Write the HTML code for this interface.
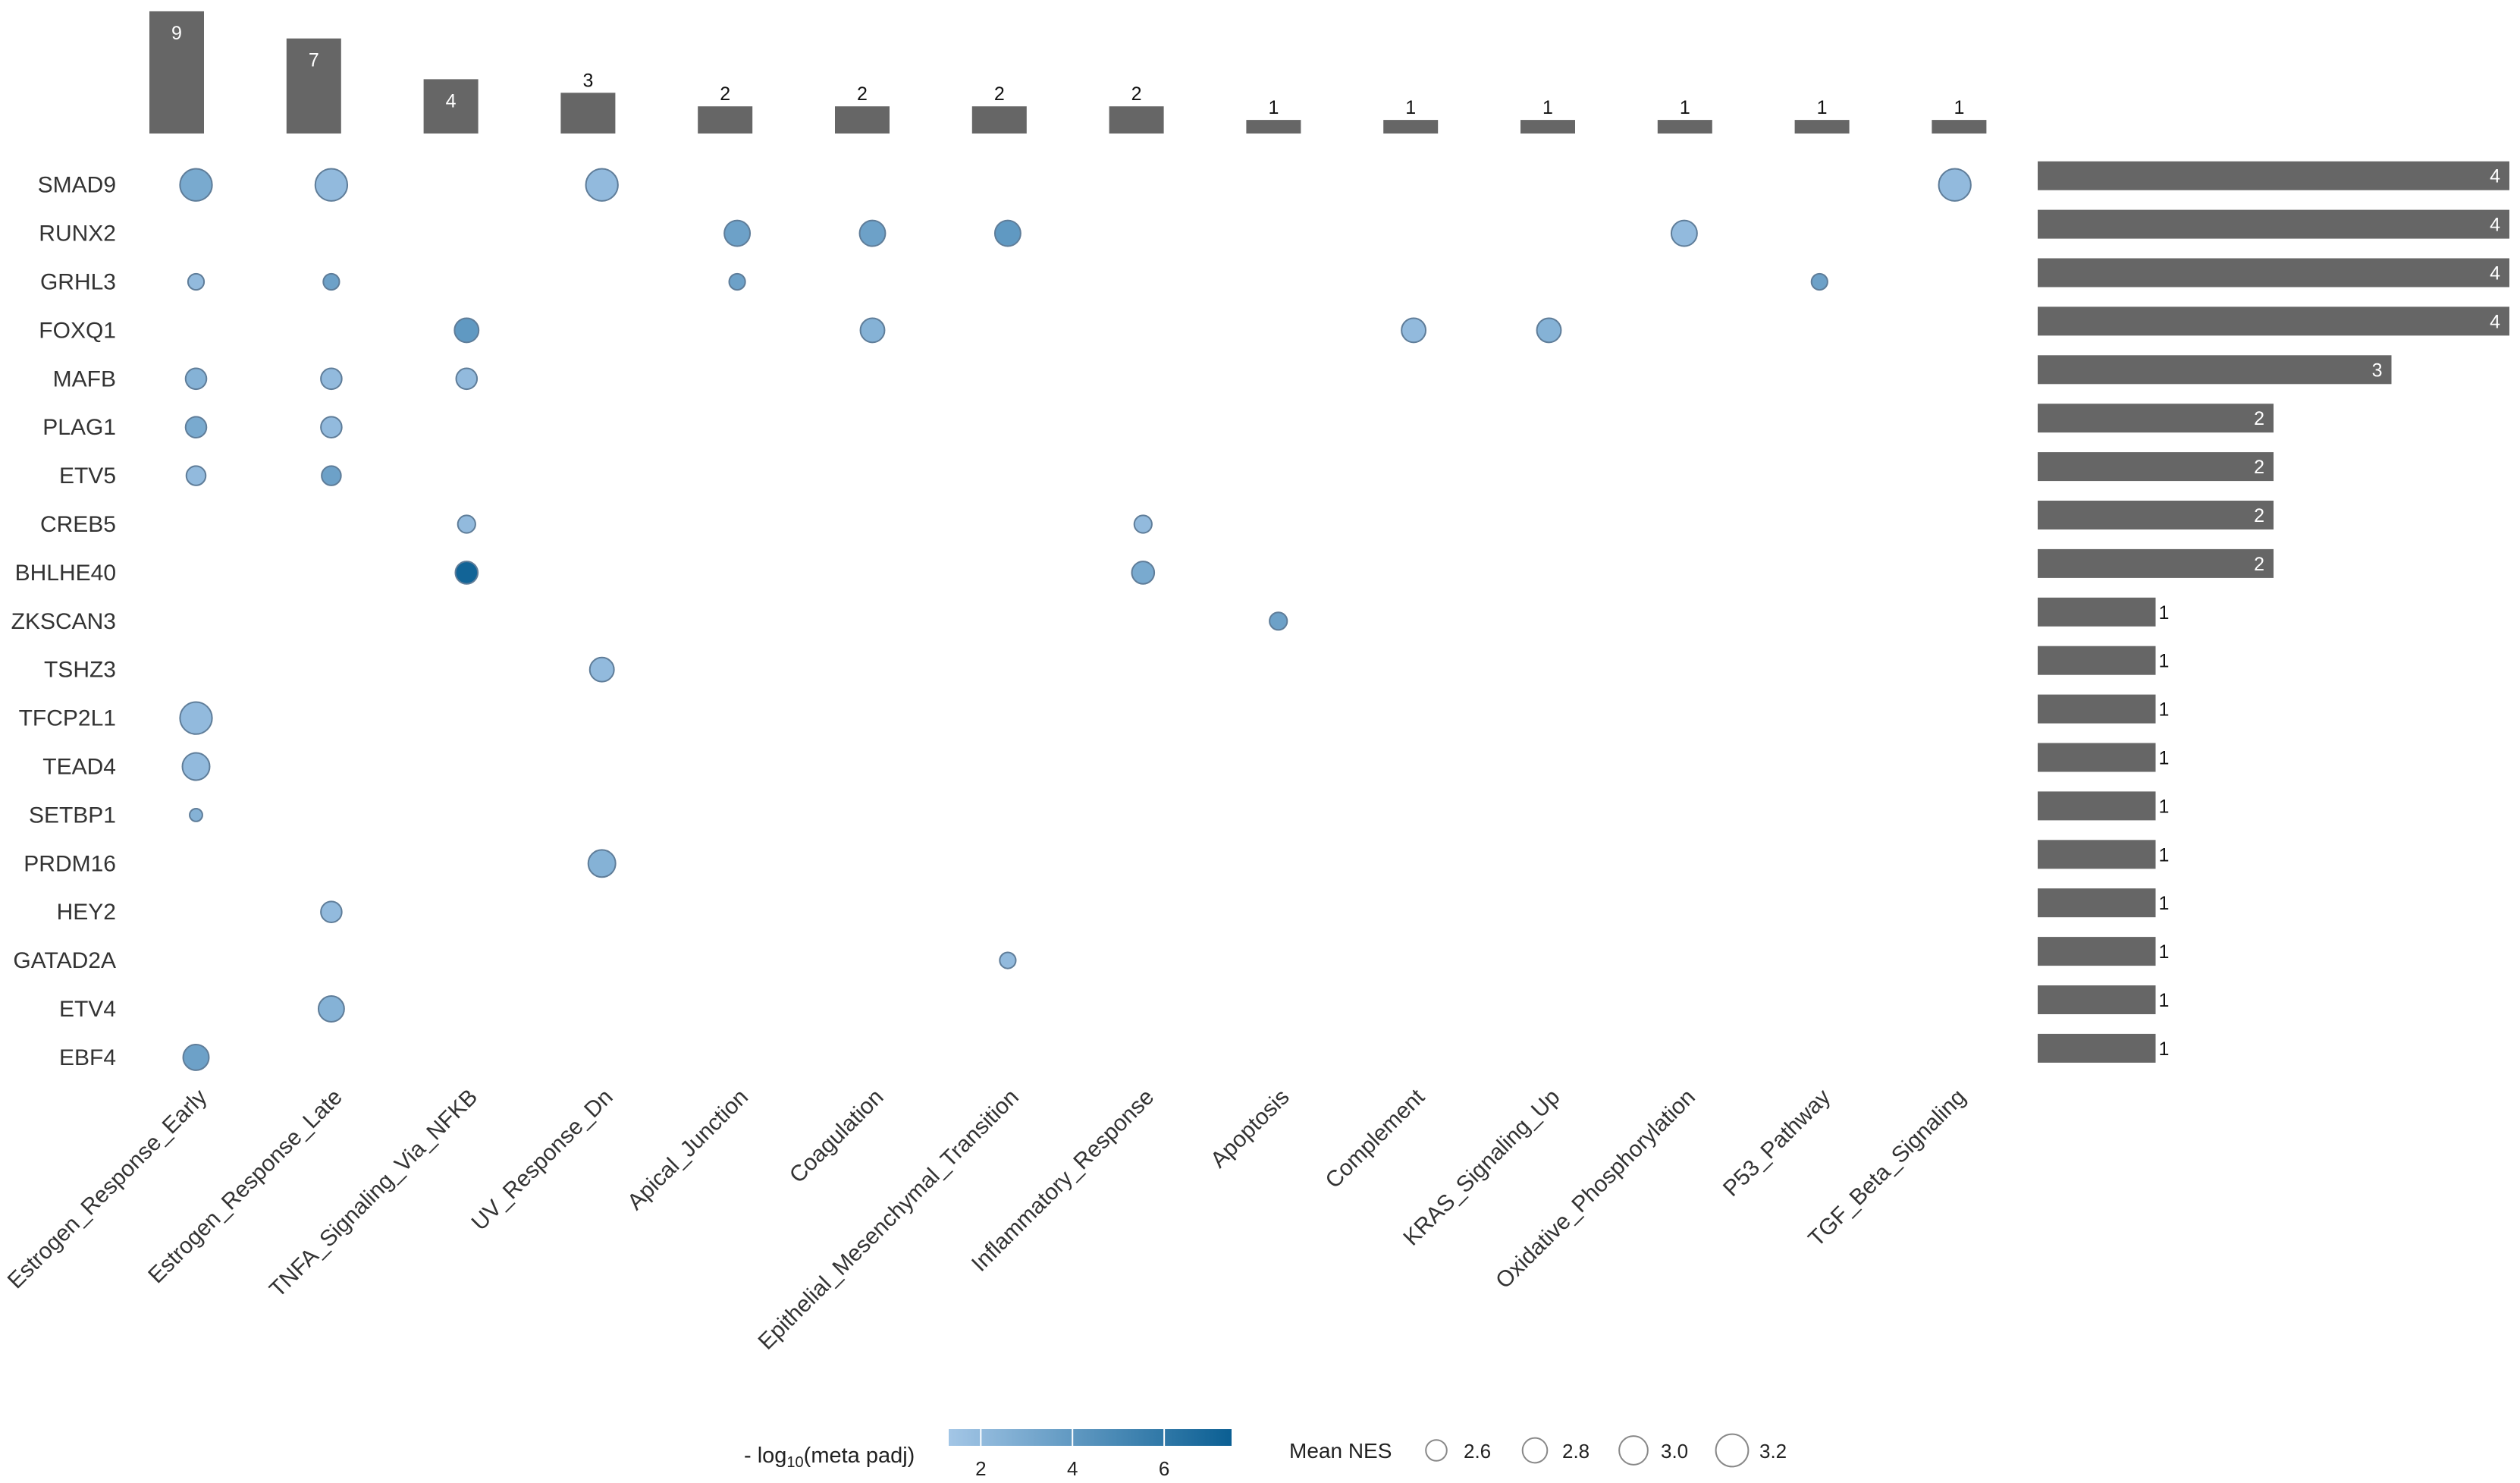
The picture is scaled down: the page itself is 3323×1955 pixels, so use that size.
<!DOCTYPE html>
<html><head><meta charset="utf-8"><style>
html,body{margin:0;padding:0;background:#fff;}
svg{display:block;font-family:"Liberation Sans",sans-serif;}
</style></head><body>
<svg id="chart" width="3323" height="1955" viewBox="0 0 3323 1955" xmlns="http://www.w3.org/2000/svg">
<defs><linearGradient id="cgrad" x1="0" x2="1" y1="0" y2="0">
<stop offset="0" stop-color="#a3c6e6"/><stop offset="1" stop-color="#0b5f93"/></linearGradient></defs>
<g id="top-bars"></g>
<g id="dots"></g>
<g id="row-labels"></g>
<g id="col-labels"></g>
<g id="right-bars"></g>
<g id="legend">
  <text x="981" y="1928" font-size="29" fill="#222">- log<tspan font-size="20" dy="6">10</tspan><tspan dy="-6">(meta padj)</tspan></text>
  <rect x="1251" y="1884" width="373" height="22" fill="url(#cgrad)"/>
  <g id="cticks"></g>
  <text x="1700" y="1922" font-size="28" fill="#222">Mean NES</text>
  <g id="sizeleg"></g>
</g>
</svg>
<script>
const NS="http://www.w3.org/2000/svg";
const pathways=["Estrogen_Response_Early","Estrogen_Response_Late","TNFA_Signaling_Via_NFKB","UV_Response_Dn","Apical_Junction","Coagulation","Epithelial_Mesenchymal_Transition","Inflammatory_Response","Apoptosis","Complement","KRAS_Signaling_Up","Oxidative_Phosphorylation","P53_Pathway","TGF_Beta_Signaling"];
const pathwayCounts=[9,7,4,3,2,2,2,2,1,1,1,1,1,1];
const genes=["SMAD9","RUNX2","GRHL3","FOXQ1","MAFB","PLAG1","ETV5","CREB5","BHLHE40","ZKSCAN3","TSHZ3","TFCP2L1","TEAD4","SETBP1","PRDM16","HEY2","GATAD2A","ETV4","EBF4"];
const geneCounts=[4,4,4,4,3,2,2,2,2,1,1,1,1,1,1,1,1,1,1];
// points: [geneIndex, pathwayIndex]
const pointGene=[0,0,0,0, 1,1,1,1, 2,2,2,2, 3,3,3,3, 4,4,4, 5,5, 6,6, 7,7, 8,8, 9, 10, 11, 12, 13, 14, 15, 16, 17, 18];
const pointPath=[0,1,3,13, 4,5,6,11, 0,1,4,12, 2,5,9,10, 0,1,2, 0,1, 0,1, 2,7, 2,7, 8, 3, 0, 0, 0, 3, 1, 6, 1, 0];
const pointNES=[3.18,3.18,3.18,3.18, 2.85,2.85,2.85,2.85, 2.35,2.35,2.35,2.35, 2.77,2.77,2.77,2.77, 2.6,2.6,2.6, 2.6,2.6, 2.52,2.52, 2.43,2.43, 2.68,2.68, 2.43, 2.77, 3.18, 2.93, 2.18, 2.93, 2.6, 2.35, 2.85, 2.85];
const pointLogP=[3,2,2,2, 3.5,3.5,4,2, 2,3.5,3.5,3.5, 4,2.5,2,2.5, 2.5,2,2, 3,2, 2,3.5, 2,2, 7.2,3, 3.5, 2, 2, 2, 2.5, 2.5, 2, 2, 2.5, 3.5];
const colorTicks=[2,4,6];
const sizeTicks=[2.6,2.8,3.0,3.2];

const xCol=i=>258.5+i*178.4;
const xBar=i=>233+i*180.8;
const yRow=i=>243.7+i*63.9;
const rNES=v=>2.119*(6.5+(v-2.6)*6);
const cMin=1.3,cMax=7.47;
const xColor=v=>1251+(v-cMin)/(cMax-cMin)*373;
function col(v){const t=Math.max(0,Math.min(1,(v-cMin)/(cMax-cMin)));
 const a=[163,198,230],b=[11,95,147];
 return `rgb(${a.map((x,i)=>Math.round(x+(b[i]-x)*t)).join(",")})`;}
function mk(tag,attrs,parent,txt){const e=document.createElementNS(NS,tag);for(const k in attrs)e.setAttribute(k,attrs[k]);if(txt!==undefined)e.textContent=txt;parent.appendChild(e);return e;}

const topG=document.getElementById("top-bars");
const base=176, unitH=17.9;
pathwayCounts.forEach((v,i)=>{
 const h=v*unitH,x=xBar(i)-36;
 const r=mk("rect",{x:x,y:base-h,width:72,height:h,fill:"#666"},topG);
 
 
 const inside=v>=4;
 const t=mk("text",{x:xBar(i),y:inside?base-h+37:base-h-8,"text-anchor":"middle","font-size":25,fill:inside?"#fff":"#111"},topG,String(v));
 
 
});

const dotG=document.getElementById("dots");
pointGene.forEach((g,k)=>{
 const c=mk("circle",{cx:xCol(pointPath[k]),cy:yRow(g),r:rNES(pointNES[k]),fill:col(pointLogP[k]),stroke:"#5f7d99","stroke-width":2},dotG);
 
 
});

const rl=document.getElementById("row-labels");
genes.forEach((g,i)=>{
 const t=mk("text",{x:153,y:yRow(i)+10,"text-anchor":"end","font-size":30,fill:"#333"},rl,g);
 
 
});

const cl=document.getElementById("col-labels");
pathways.forEach((p,i)=>{
 const x=xCol(i)+16,y=1448;
 const t=mk("text",{x:x,y:y,"text-anchor":"end","font-size":30,fill:"#333",transform:`rotate(-45 ${x} ${y})`},cl,p);
 
 
});

const rb=document.getElementById("right-bars");
geneCounts.forEach((v,i)=>{
 const w=v*155.5,y=yRow(i)-31;
 const r=mk("rect",{x:2687,y:y,width:w,height:38,fill:"#666"},rb);
 
 
 const inside=v>=2;
 const t=mk("text",{x:inside?2687+w-12:2687+w+4,y:y+28,"text-anchor":inside?"end":"start","font-size":25,fill:inside?"#fff":"#111"},rb,String(v));
 
 
});

const ct=document.getElementById("cticks");
colorTicks.forEach(v=>{
 const l=mk("line",{x1:xColor(v),x2:xColor(v),y1:1884,y2:1906,stroke:"#fff","stroke-width":2},ct);
 
 
 const t=mk("text",{x:xColor(v),y:1945,"text-anchor":"middle","font-size":26,fill:"#222"},ct,String(v));
 
 
});
const sl=document.getElementById("sizeleg");
sizeTicks.forEach((v,i)=>{
 const cx=1894+i*130;
 const c=mk("circle",{cx:cx,cy:1912,r:rNES(v),fill:"none",stroke:"#888","stroke-width":2},sl);
 
 
 const t=mk("text",{x:cx+36,y:1922,"font-size":26,fill:"#222"},sl,v.toFixed(1));
 
 
});
</script>
</body></html>
